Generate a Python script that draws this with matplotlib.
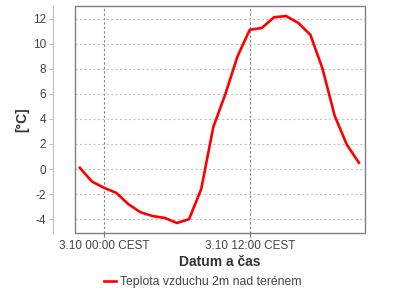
import matplotlib
matplotlib.use("Agg")
import matplotlib.pyplot as plt
from matplotlib.patches import Rectangle

plt.rcParams['font.family'] = ['Liberation Sans', 'DejaVu Sans']
plt.rcParams['axes.unicode_minus'] = False

# hours relative to 3.10 00:00 CEST
hours = list(range(-2, 22))
temps = [0.1, -1.0, -1.5, -1.9, -2.8, -3.45, -3.75, -3.9, -4.3, -4.0,
         -1.6, 3.35, 6.0, 9.0, 11.1, 11.25, 12.1, 12.2, 11.65, 10.7,
         8.0, 4.25, 1.95, 0.5]
series_label = "Teplota vzduchu 2m nad terénem"
xtick_pos = [0, 12]
xtick_labels = ["3.10 00:00 CEST", "3.10 12:00 CEST"]
ytick_vals = [-4, -2, 0, 2, 4, 6, 8, 10, 12]

fig = plt.figure(figsize=(4, 3), dpi=100)
ax = fig.add_axes([75/400, 1-233/300, 290/400, 227/300])

ax.plot(hours, temps, color='#ff0000', lw=1.9, label=series_label, zorder=3)

ax.set_xlim(-2.4, 21.5)
ax.set_ylim(-5.1, 13.0)
ax.set_xticks(xtick_pos)
ax.set_xticklabels(xtick_labels)
ax.set_yticks(ytick_vals)

for s in ['top', 'right', 'bottom']:
    ax.spines[s].set_visible(False)
ax.spines['left'].set_position(('outward', 22 * 72 / 100))
ax.spines['left'].set_color('#c0c0c0')
ax.add_patch(Rectangle((0, 0), 1, 1, transform=ax.transAxes, fill=False,
                       edgecolor='#808080', lw=1.0, zorder=4, clip_on=False))

ax.yaxis.grid(True, color='#c4c4c4', lw=0.8, linestyle=(0, (2, 2)))
ax.xaxis.grid(True, color='#808080', lw=0.8, linestyle=(0, (2, 2)))

ax.tick_params(axis='y', direction='out', length=3, width=0.8, color='#c0c0c0',
               labelsize=8.5, labelcolor='#444444', pad=2)
ax.tick_params(axis='x', direction='out', length=3, width=0.8, color='#808080',
               labelsize=8.5, labelcolor='#444444', pad=2)

ax.set_xlabel("Datum a čas", fontsize=10, fontweight='bold', color='#333333')
ax.set_ylabel("[°C]", fontsize=10, fontweight='bold', color='#333333')
ax.xaxis.set_label_coords(0.5, (233 - 262) / 227)
ax.xaxis.label.set_va('center')
ax.yaxis.set_label_coords((22 - 75) / 290, 0.5)
ax.yaxis.label.set_va('center')

fig.legend(loc='center', bbox_to_anchor=(0.506, 1-282/300), frameon=False,
           fontsize=8.8, handlelength=1.0, handletextpad=0.3, labelcolor='#444444')

fig.savefig("out.png", dpi=100)
